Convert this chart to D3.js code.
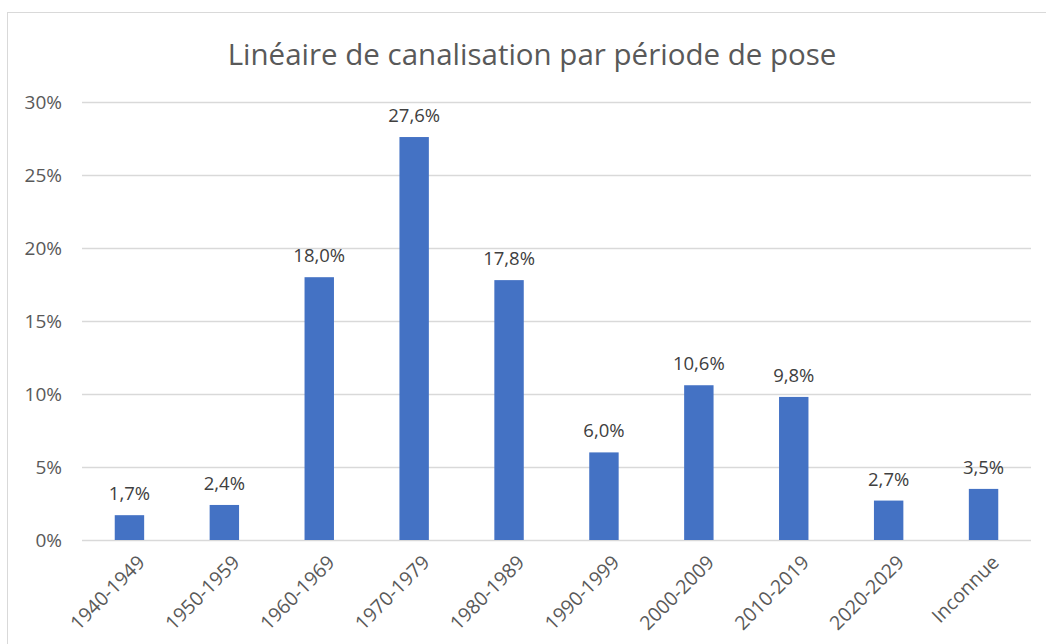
<!DOCTYPE html>
<html>
<head>
<meta charset="utf-8">
<script src="https://cdn.jsdelivr.net/npm/d3@7"></script>
<style>
  body { margin: 0; background: #fff; }
  text { font-family: "Open Sans", "Liberation Sans", sans-serif; }
</style>
</head>
<body>
<div id="graph"></div>
<script>
// Data
var periods = ["1940-1949", "1950-1959", "1960-1969", "1970-1979", "1980-1989",
               "1990-1999", "2000-2009", "2010-2019", "2020-2029", "Inconnue"];
var shares = [1.7, 2.4, 18.0, 27.6, 17.8, 6.0, 10.6, 9.8, 2.7, 3.5];
var yTicks = [0, 5, 10, 15, 20, 25, 30];

var W = 1046, H = 644;
var margin = { top: 102, right: 15, bottom: 104, left: 82 },
    width = 1031 - margin.left,
    height = 540 - margin.top;

var svg = d3.select("#graph").append("svg")
    .attr("width", W)
    .attr("height", H);

// chart frame
svg.append("rect")
    .attr("x", 7.5).attr("y", 12.5)
    .attr("width", 1060).attr("height", 660)
    .attr("fill", "none")
    .attr("stroke", "#d9d9d9");

svg.append("text")
    .attr("x", 532).attr("y", 65)
    .attr("text-anchor", "middle")
    .attr("fill", "#595959")
    .style("font-size", "29.5px")
    .text("Linéaire de canalisation par période de pose");

var g = svg.append("g")
    .attr("transform", "translate(" + margin.left + "," + margin.top + ")");

var x = d3.scaleBand().domain(periods).range([0, width]);
var y = d3.scaleLinear().domain([0, 30]).range([height, 0]);

// gridlines + y labels
g.selectAll(".grid").data(yTicks).enter().append("line")
    .attr("x1", 0).attr("x2", width)
    .attr("y1", function(d) { return Math.round(y(d)) + 0.5; })
    .attr("y2", function(d) { return Math.round(y(d)) + 0.5; })
    .attr("stroke", "#d9d9d9")
    .attr("stroke-width", 1.3);

g.selectAll(".ylab").data(yTicks).enter().append("text")
    .attr("x", -20)
    .attr("y", function(d) { return y(d); })
    .attr("dy", "0.35em")
    .attr("text-anchor", "end")
    .attr("fill", "#595959")
    .style("font-size", "19px")
    .text(function(d) { return d + "%"; });

// bars
var bw = x.bandwidth() * 0.31;
g.selectAll(".bar").data(shares).enter().append("rect")
    .attr("x", function(d, i) { return x(periods[i]) + x.bandwidth() / 2 - bw / 2; })
    .attr("y", function(d) { return y(d); })
    .attr("width", bw)
    .attr("height", function(d) { return height - y(d); })
    .attr("fill", "#4472c4");

// data labels
g.selectAll(".vlab").data(shares).enter().append("text")
    .attr("x", function(d, i) { return x(periods[i]) + x.bandwidth() / 2; })
    .attr("y", function(d) { return y(d) - 15; })
    .attr("text-anchor", "middle")
    .attr("fill", "#404040")
    .style("font-size", "18.5px")
    .text(function(d) { return d.toFixed(1).replace(".", ",") + "%"; });

// x labels, rotated
g.selectAll(".xlab").data(periods).enter().append("text")
    .attr("transform", function(d) {
        return "translate(" + (x(d) + x.bandwidth() / 2 + 7) + "," + (height + 14) + ") rotate(-45)";
    })
    .attr("text-anchor", "end")
    .attr("dy", "0.7em")
    .attr("fill", "#595959")
    .style("font-size", "19.5px")
    .text(function(d) { return d; });
</script>
</body>
</html>
